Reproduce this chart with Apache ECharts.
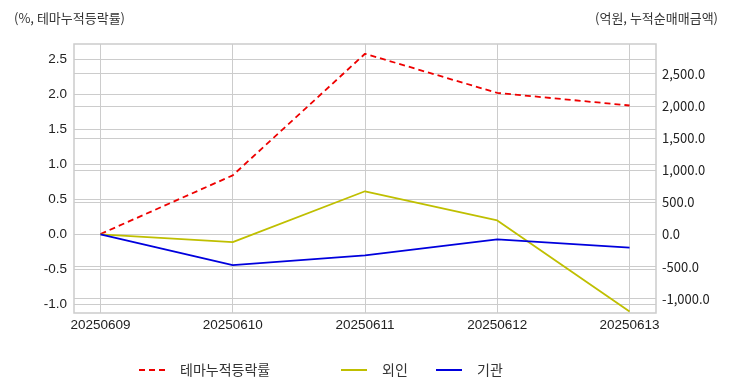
<!DOCTYPE html>
<html><head><meta charset="utf-8">
<script src="https://cdn.jsdelivr.net/npm/echarts@6/dist/echarts.min.js"></script>
<style>html,body{margin:0;padding:0;background:#fff}#c{width:732px;height:392px}</style>
</head><body><div id="c"></div>
<script>
const dates = ['20250609','20250610','20250611','20250612','20250613'];
const themeReturn = [0.0, 0.84, 2.58, 2.02, 1.84];
const foreign = [0, -119, 671, 217, -1200];
const institution = [0, -476, -326, -78, -206];
const leftTicks = [-1.0, -0.5, 0.0, 0.5, 1.0, 1.5, 2.0, 2.5];
const rightTicks = [-1000, -500, 0, 500, 1000, 1500, 2000, 2500];

const idx = dates.map((d, i) => i);
const pts = arr => arr.map((v, i) => [i, v]);
const fmtR = v => (v < 0 ? '-' : '') + Math.abs(v).toLocaleString('en-US', {minimumFractionDigits:1, maximumFractionDigits:1});
const gridCol = '#cccccc';
const solidIcon = 'path://M0,0 L26,0 L26,2 L0,2 Z';
const dashIcon = 'path://M0,0 L6,0 L6,2 L0,2 Z M10,0 L16,0 L16,2 L10,2 Z M20,0 L26,0 L26,2 L20,2 Z';
const chart = echarts.init(document.getElementById('c'));
const legendBase = {top: 358, itemWidth: 26, itemHeight: 2, textStyle: {fontFamily: 'Noto Sans CJK KR', fontSize: 14, color: '#333', padding:[0,0,0,10]}, selectedMode: false};
chart.setOption({
  animation: false,
  title: [
    {text: '(%, 테마누적등락률)', left: 9, top: 7, textStyle: {fontFamily: 'Noto Sans CJK KR', fontSize: 13, fontWeight: 'normal', color: '#333'}},
    {text: '(억원, 누적순매매금액)', right: 9, top: 7, textStyle: {fontFamily: 'Noto Sans CJK KR', fontSize: 13, fontWeight: 'normal', color: '#333'}}
  ],
  grid: {left: 74, right: 76, top: 44, bottom: 79, show: true, borderColor: gridCol, borderWidth: 1.5, backgroundColor: 'transparent'},
  legend: [
    Object.assign({}, legendBase, {left: 134, data: [{name: '테마누적등락률', icon: dashIcon}]}),
    Object.assign({}, legendBase, {left: 336, data: [{name: '외인', icon: solidIcon}]}),
    Object.assign({}, legendBase, {left: 431, data: [{name: '기관', icon: solidIcon}]})
  ],
  xAxis: {
    type: 'value', min: -0.2, max: 4.2,
    axisLine: {show: false},
    axisTick: {show: false, customValues: idx},
    axisLabel: {customValues: idx, formatter: v => dates[Math.round(v)], fontFamily: 'Liberation Sans', fontSize: 13.5, color: '#222', margin: 5},
    splitLine: {show: true, lineStyle: {color: gridCol, width: 1}}
  },
  yAxis: [
    {type: 'value', min: -1.13, max: 2.72, position: 'left',
     axisLine: {show: false}, axisTick: {show: false, customValues: leftTicks},
     axisLabel: {customValues: leftTicks, formatter: v => v.toFixed(1), fontFamily: 'Liberation Sans', fontSize: 13.5, color: '#222', margin: 7},
     splitLine: {show: true, lineStyle: {color: gridCol, width: 1}}},
    {type: 'value', min: -1222, max: 2961, position: 'right',
     axisLine: {show: false}, axisTick: {show: false, customValues: rightTicks},
     axisLabel: {customValues: rightTicks, formatter: fmtR, fontFamily: 'Noto Sans CJK KR', fontSize: 13, color: '#222', margin: 6},
     splitLine: {show: true, lineStyle: {color: gridCol, width: 1}}}
  ],
  series: [
    {name: '테마누적등락률', type: 'line', yAxisIndex: 0, data: pts(themeReturn), symbol: 'none', color: '#ee0000',
     lineStyle: {color: '#ee0000', width: 1.8, type: [6, 4]}},
    {name: '외인', type: 'line', yAxisIndex: 1, data: pts(foreign), symbol: 'none', color: '#bfbf00',
     lineStyle: {color: '#bfbf00', width: 1.8}},
    {name: '기관', type: 'line', yAxisIndex: 1, data: pts(institution), symbol: 'none', color: '#0000dd',
     lineStyle: {color: '#0000dd', width: 1.8}}
  ]
});
</script></body></html>
